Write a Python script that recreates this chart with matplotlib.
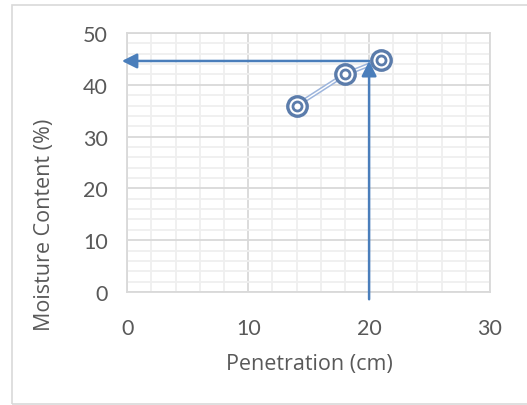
import matplotlib
matplotlib.use("Agg")
import matplotlib.pyplot as plt
from matplotlib.ticker import MultipleLocator
from matplotlib.patches import Rectangle

penetration = [14, 18, 21]
moisture = [36, 42, 44.8]
read_penetration = 20
read_moisture = 44.6
x_ticks = [0, 10, 20, 30]
y_ticks = [0, 10, 20, 30, 40, 50]

plt.rcParams['font.family'] = ['Lato', 'DejaVu Sans']
txt = '#595959'

fig = plt.figure(figsize=(5.27, 4.06), dpi=100)
fig.patches.append(Rectangle((12/527, 1-405/406), 1.0, (405-6)/406, transform=fig.transFigure,
                             fill=False, edgecolor='#d9d9d9', linewidth=1.2))
ax = fig.add_axes([127.3/527, 1-293/406, (490-127.3)/527, (293-34)/406])

ax.set_xlim(0, 30)
ax.set_ylim(0, 50)
ax.set_xticks(x_ticks)
ax.set_yticks(y_ticks)
ax.xaxis.set_minor_locator(MultipleLocator(2))
ax.yaxis.set_minor_locator(MultipleLocator(2))
ax.grid(which='major', color='#d9d9d9', linewidth=1.3, zorder=0)
ax.grid(which='minor', color='#efefef', linewidth=1.3, zorder=0)
ax.set_axisbelow(True)
for s in ax.spines.values():
    s.set_color('#d9d9d9')
    s.set_linewidth(1.3)
ax.tick_params(which='both', length=0, labelsize=15.5, colors=txt)
ax.tick_params(axis='x', pad=19)
ax.tick_params(axis='y', pad=14)

# double line
ax.plot(penetration, moisture, color='#9db5dc', linewidth=3.2, zorder=3, solid_capstyle='butt')
ax.plot(penetration, moisture, color='white', linewidth=1.0, zorder=3)
# double-circle markers
ax.plot(penetration, moisture, linestyle='none', marker='o', markersize=14,
        markerfacecolor='white', markeredgecolor='#5b7cab', markeredgewidth=2.4, zorder=4)
ax.plot(penetration, moisture, linestyle='none', marker='o', markersize=6.5,
        markerfacecolor='white', markeredgecolor='#5b7cab', markeredgewidth=2.0, zorder=5)

arrow_col = '#4a7ebb'
ax.annotate('', xy=(read_penetration, read_moisture), xytext=(read_penetration, -1.4),
            arrowprops=dict(arrowstyle='-|>,head_length=0.9,head_width=0.45', color=arrow_col,
                            lw=1.8, shrinkA=0, shrinkB=0), annotation_clip=False, zorder=6)
ax.annotate('', xy=(-0.45, read_moisture), xytext=(read_penetration, read_moisture),
            arrowprops=dict(arrowstyle='-|>,head_length=0.9,head_width=0.45', color=arrow_col,
                            lw=1.8, shrinkA=0, shrinkB=0), annotation_clip=False, zorder=6)

fig.text(309/527, 1-365/406, 'Penetration (cm)', ha='center', va='center', fontsize=15.5,
         color=txt, family=['Open Sans', 'DejaVu Sans'])
fig.text(45/527, 1-225/406, 'Moisture Content (%)', ha='center', va='center', rotation=90,
         fontsize=15.5, color=txt, family=['Open Sans', 'DejaVu Sans'])

fig.savefig('out.png', dpi=100)
